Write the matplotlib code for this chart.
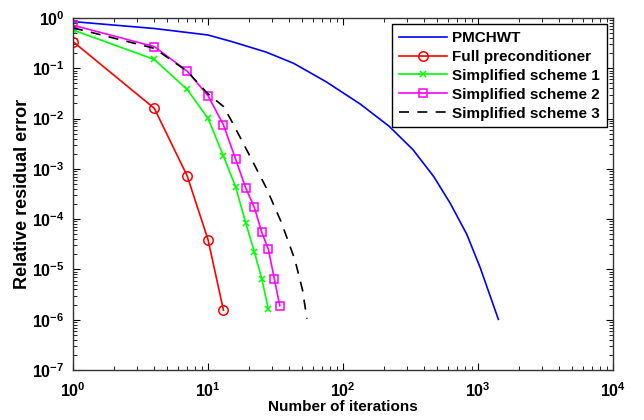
import matplotlib
matplotlib.use("Agg")
import matplotlib.pyplot as plt
from matplotlib.ticker import LogLocator, NullFormatter

plt.rcParams['font.family'] = ['Liberation Sans', 'DejaVu Sans']
plt.rcParams['font.weight'] = 'bold'
plt.rcParams['mathtext.fontset'] = 'custom'
plt.rcParams['mathtext.rm'] = 'Liberation Sans:bold'
plt.rcParams['mathtext.bf'] = 'Liberation Sans:bold'
plt.rcParams['mathtext.it'] = 'Liberation Sans:bold'
plt.rcParams['mathtext.default'] = 'bf'

labels = ["PMCHWT", "Full preconditioner", "Simplified scheme 1",
          "Simplified scheme 2", "Simplified scheme 3"]

pm_x = [1, 4, 10, 15, 27, 43, 75, 134, 220, 330, 470, 620, 825, 1035, 1413]
pm_y = [0.85, 0.62, 0.46, 0.34, 0.21, 0.126, 0.054, 0.0195, 7.0e-3,
        2.4e-3, 7.0e-4, 2.1e-4, 5.0e-5, 1.1e-5, 1.02e-6]

full_x = [1, 4, 7, 10, 13]
full_y = [0.34, 0.016, 7.3e-4, 3.9e-5, 1.55e-6]

s1_x = [1, 4, 7, 10, 13, 16, 19, 22, 25, 28]
s1_y = [0.58, 0.15, 0.038, 0.0101, 1.8e-3, 4.4e-4, 8.5e-5, 2.26e-5, 6.5e-6, 1.6e-6]

s2_x = [1, 4, 7, 10, 13, 16, 19, 22, 25, 28, 31, 34]
s2_y = [0.72, 0.27, 0.088, 0.0285, 7.5e-3, 1.57e-3, 4.2e-4, 1.72e-4,
        5.5e-5, 2.5e-5, 6.4e-6, 1.9e-6]

s3_x = [1, 4, 7, 10, 13, 15, 20, 27, 35, 44, 50, 54]
s3_y = [0.64, 0.25, 0.088, 0.031, 0.0175, 0.0088, 2.0e-3, 4.2e-4,
        8.5e-5, 1.55e-5, 4.0e-6, 1.05e-6]

fig = plt.figure(figsize=(6.44, 4.2), dpi=100)
ax = fig.add_axes([0.1134, 0.119, 0.8386, 0.838])

lw = 1.2
ax.loglog(pm_x, pm_y, color='#0000ff', lw=lw, label=labels[0])
ax.loglog(full_x, full_y, color='#ff0000', lw=lw, marker='o', ms=6.8,
          mfc='none', mew=1.1, label=labels[1])
ax.loglog(s1_x, s1_y, color='#00ff00', lw=lw, marker='x', ms=5,
          mew=1.1, label=labels[2])
ax.loglog(s2_x, s2_y, color='#ff00ff', lw=lw, marker='s', ms=6.2,
          mfc='none', mew=1.1, label=labels[3])
ax.loglog(s3_x, s3_y, color='black', lw=lw, ls=(0, (6, 5)), label=labels[4])

ax.set_xlim(1, 1e4)
ax.set_ylim(1e-7, 1)
ax.xaxis.set_major_locator(LogLocator(base=10, numticks=10))
ax.yaxis.set_major_locator(LogLocator(base=10, numticks=10))
ax.xaxis.set_minor_locator(LogLocator(base=10, subs=range(2, 10), numticks=20))
ax.yaxis.set_minor_locator(LogLocator(base=10, subs=range(2, 10), numticks=20))
ax.xaxis.set_minor_formatter(NullFormatter())
ax.yaxis.set_minor_formatter(NullFormatter())
ax.tick_params(which='both', direction='in', top=True, right=True)
ax.tick_params(which='major', length=5, labelsize=11.5)
ax.tick_params(axis='x', which='major', pad=8)
ax.tick_params(axis='y', which='major', pad=6)
ax.tick_params(which='minor', length=3)
for s in ax.spines.values():
    s.set_linewidth(1.0)
    s.set_color('#333333')

ax.set_xlabel("Number of iterations", fontsize=11, fontweight='bold', labelpad=0)
ax.set_ylabel("Relative residual error", fontsize=13, fontweight='bold', labelpad=1)

leg = ax.legend(loc='upper right', fontsize=11, handlelength=3.15,
                borderaxespad=0.4, borderpad=0.45, labelspacing=0.32,
                handletextpad=0.35, fancybox=False, framealpha=1,
                edgecolor='black')
leg.get_frame().set_linewidth(1.0)
for t in leg.get_texts():
    t.set_fontweight('bold')

fig.savefig("out.png", dpi=100)
